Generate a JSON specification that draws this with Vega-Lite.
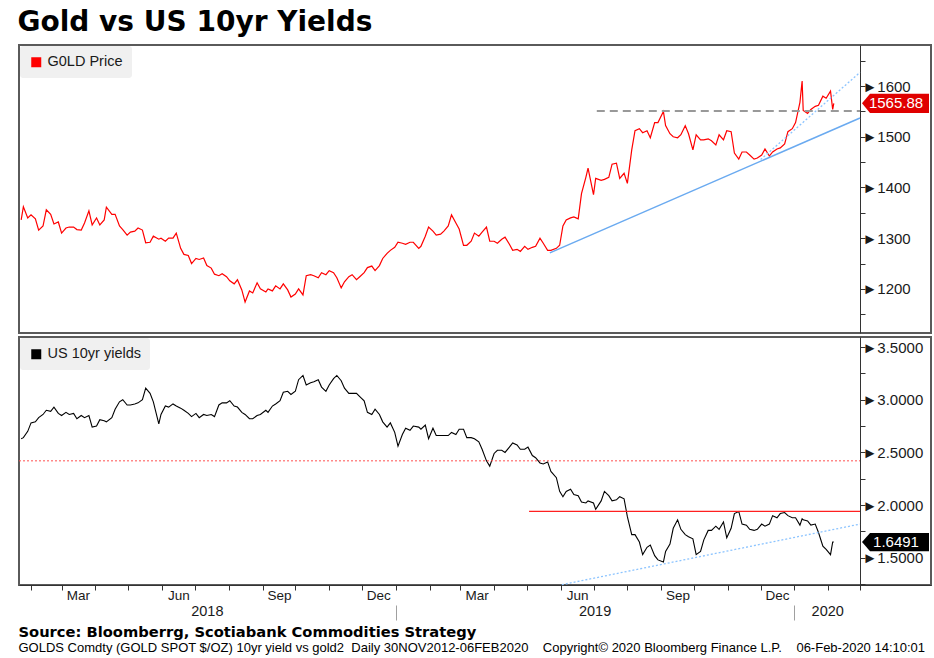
{
  "$schema": "https://vega.github.io/schema/vega-lite/v6.json",
  "background": "white",
  "padding": {"left": 17, "top": 9, "right": 5, "bottom": 0},
  "title": {"text": "Gold vs US 10yr Yields", "anchor": "start", "font": "DejaVu Sans", "fontSize": 28, "fontWeight": "bold", "color": "#000000", "offset": 7},
  "config": {
    "font": "Liberation Sans",
    "view": {"stroke": "#5a5a5a", "strokeWidth": 2},
    "axis": {"labelFont": "Liberation Sans", "labelColor": "#1a1a1a", "grid": false, "domainColor": "#333333", "tickColor": "#333333"},
    "legend": {"labelFont": "Liberation Sans", "labelColor": "#1a1a1a"}
  },
  "resolve": {"scale": {"color": "independent"}, "legend": {"color": "independent"}},
  "datasets": {
    "px": [
      {"d":"2018-01-23","g":1336,"y":2.63},{"d":"2018-01-25","g":1362,"y":2.64},{"d":"2018-01-29","g":1340,"y":2.70},{"d":"2018-02-01","g":1346,"y":2.78},
      {"d":"2018-02-05","g":1338,"y":2.79},{"d":"2018-02-08","g":1316,"y":2.83},{"d":"2018-02-12","g":1324,"y":2.86},{"d":"2018-02-15","g":1356,"y":2.90},
      {"d":"2018-02-19","g":1347,"y":2.89},{"d":"2018-02-22","g":1328,"y":2.93},{"d":"2018-02-26","g":1332,"y":2.87},{"d":"2018-03-01","g":1310,"y":2.85},
      {"d":"2018-03-05","g":1320,"y":2.88},{"d":"2018-03-08","g":1322,"y":2.86},{"d":"2018-03-12","g":1322,"y":2.87},{"d":"2018-03-15","g":1317,"y":2.82},
      {"d":"2018-03-19","g":1316,"y":2.85},{"d":"2018-03-22","g":1330,"y":2.83},{"d":"2018-03-26","g":1354,"y":2.85},{"d":"2018-03-29","g":1326,"y":2.74},
      {"d":"2018-04-02","g":1340,"y":2.75},{"d":"2018-04-05","g":1326,"y":2.81},{"d":"2018-04-09","g":1336,"y":2.80},{"d":"2018-04-11","g":1361,"y":2.79},
      {"d":"2018-04-16","g":1347,"y":2.83},{"d":"2018-04-19","g":1347,"y":2.91},{"d":"2018-04-23","g":1324,"y":2.98},{"d":"2018-04-26","g":1317,"y":3.00},
      {"d":"2018-04-30","g":1306,"y":2.95},{"d":"2018-05-03","g":1312,"y":2.95},{"d":"2018-05-07","g":1314,"y":2.96},{"d":"2018-05-10","g":1320,"y":2.97},
      {"d":"2018-05-14","g":1316,"y":3.00},{"d":"2018-05-17","g":1291,"y":3.11},{"d":"2018-05-21","g":1292,"y":3.06},{"d":"2018-05-24","g":1304,"y":2.98},
      {"d":"2018-05-29","g":1298,"y":2.77},{"d":"2018-05-31","g":1300,"y":2.86},{"d":"2018-06-04","g":1294,"y":2.94},{"d":"2018-06-07","g":1300,"y":2.93},
      {"d":"2018-06-11","g":1300,"y":2.96},{"d":"2018-06-14","g":1310,"y":2.94},{"d":"2018-06-18","g":1280,"y":2.92},{"d":"2018-06-21","g":1268,"y":2.90},
      {"d":"2018-06-25","g":1266,"y":2.87},{"d":"2018-06-28","g":1250,"y":2.84},{"d":"2018-07-02","g":1260,"y":2.87},{"d":"2018-07-05","g":1258,"y":2.83},
      {"d":"2018-07-09","g":1261,"y":2.86},{"d":"2018-07-12","g":1246,"y":2.85},{"d":"2018-07-16","g":1241,"y":2.86},{"d":"2018-07-19","g":1229,"y":2.84},
      {"d":"2018-07-23","g":1226,"y":2.95},{"d":"2018-07-26","g":1230,"y":2.97},{"d":"2018-07-30","g":1224,"y":2.97},{"d":"2018-08-02","g":1216,"y":2.99},
      {"d":"2018-08-06","g":1210,"y":2.94},{"d":"2018-08-09","g":1218,"y":2.93},{"d":"2018-08-13","g":1198,"y":2.88},{"d":"2018-08-16","g":1174,"y":2.86},
      {"d":"2018-08-20","g":1196,"y":2.82},{"d":"2018-08-23","g":1192,"y":2.82},{"d":"2018-08-27","g":1212,"y":2.85},{"d":"2018-08-30","g":1200,"y":2.86},
      {"d":"2018-09-04","g":1194,"y":2.90},{"d":"2018-09-06","g":1200,"y":2.88},{"d":"2018-09-10","g":1196,"y":2.94},{"d":"2018-09-13","g":1206,"y":2.96},
      {"d":"2018-09-17","g":1200,"y":2.99},{"d":"2018-09-20","g":1210,"y":3.07},{"d":"2018-09-24","g":1198,"y":3.08},{"d":"2018-09-27","g":1184,"y":3.05},
      {"d":"2018-10-01","g":1190,"y":3.08},{"d":"2018-10-04","g":1200,"y":3.19},{"d":"2018-10-08","g":1188,"y":3.23},{"d":"2018-10-11","g":1226,"y":3.14},
      {"d":"2018-10-15","g":1228,"y":3.16},{"d":"2018-10-18","g":1226,"y":3.17},{"d":"2018-10-22","g":1222,"y":3.19},{"d":"2018-10-25","g":1232,"y":3.12},
      {"d":"2018-10-29","g":1228,"y":3.08},{"d":"2018-11-01","g":1236,"y":3.14},{"d":"2018-11-05","g":1232,"y":3.20},{"d":"2018-11-08","g":1222,"y":3.23},
      {"d":"2018-11-12","g":1202,"y":3.18},{"d":"2018-11-15","g":1214,"y":3.11},{"d":"2018-11-19","g":1224,"y":3.06},{"d":"2018-11-22","g":1228,"y":3.06},
      {"d":"2018-11-26","g":1218,"y":3.06},{"d":"2018-11-29","g":1224,"y":3.03},{"d":"2018-12-03","g":1232,"y":2.99},{"d":"2018-12-06","g":1242,"y":2.88},
      {"d":"2018-12-10","g":1245,"y":2.86},{"d":"2018-12-13","g":1236,"y":2.91},{"d":"2018-12-17","g":1246,"y":2.86},{"d":"2018-12-20","g":1260,"y":2.79},
      {"d":"2018-12-24","g":1270,"y":2.74},{"d":"2018-12-27","g":1276,"y":2.78},{"d":"2018-12-31","g":1282,"y":2.69},{"d":"2019-01-03","g":1292,"y":2.56},
      {"d":"2019-01-07","g":1290,"y":2.67},{"d":"2019-01-10","g":1288,"y":2.73},{"d":"2019-01-14","g":1292,"y":2.71},{"d":"2019-01-17","g":1292,"y":2.75},
      {"d":"2019-01-22","g":1280,"y":2.74},{"d":"2019-01-24","g":1284,"y":2.72},{"d":"2019-01-28","g":1304,"y":2.76},{"d":"2019-01-31","g":1322,"y":2.63},
      {"d":"2019-02-04","g":1314,"y":2.73},{"d":"2019-02-07","g":1306,"y":2.66},{"d":"2019-02-11","g":1308,"y":2.66},{"d":"2019-02-14","g":1314,"y":2.66},
      {"d":"2019-02-18","g":1324,"y":2.66},{"d":"2019-02-21","g":1346,"y":2.69},{"d":"2019-02-25","g":1330,"y":2.67},{"d":"2019-02-28","g":1318,"y":2.72},
      {"d":"2019-03-04","g":1286,"y":2.72},{"d":"2019-03-07","g":1286,"y":2.64},{"d":"2019-03-11","g":1294,"y":2.64},{"d":"2019-03-14","g":1310,"y":2.63},
      {"d":"2019-03-18","g":1304,"y":2.60},{"d":"2019-03-21","g":1312,"y":2.53},{"d":"2019-03-25","g":1322,"y":2.42},{"d":"2019-03-28","g":1294,"y":2.37},
      {"d":"2019-04-01","g":1294,"y":2.49},{"d":"2019-04-04","g":1290,"y":2.52},{"d":"2019-04-08","g":1298,"y":2.52},{"d":"2019-04-11","g":1302,"y":2.50},
      {"d":"2019-04-15","g":1288,"y":2.55},{"d":"2019-04-18","g":1276,"y":2.59},{"d":"2019-04-22","g":1278,"y":2.57},{"d":"2019-04-25","g":1274,"y":2.53},
      {"d":"2019-04-29","g":1284,"y":2.53},{"d":"2019-05-02","g":1278,"y":2.55},{"d":"2019-05-06","g":1282,"y":2.47},{"d":"2019-05-09","g":1284,"y":2.45},
      {"d":"2019-05-13","g":1300,"y":2.40},{"d":"2019-05-16","g":1290,"y":2.39},{"d":"2019-05-20","g":1276,"y":2.41},{"d":"2019-05-23","g":1276,"y":2.32},
      {"d":"2019-05-28","g":1280,"y":2.26},{"d":"2019-05-31","g":1286,"y":2.13},{"d":"2019-06-03","g":1324,"y":2.08},{"d":"2019-06-06","g":1336,"y":2.13},
      {"d":"2019-06-10","g":1340,"y":2.15},{"d":"2019-06-13","g":1342,"y":2.10},{"d":"2019-06-17","g":1338,"y":2.09},{"d":"2019-06-20","g":1388,"y":2.03},
      {"d":"2019-06-24","g":1420,"y":2.02},{"d":"2019-06-26","g":1438,"y":2.04},{"d":"2019-07-01","g":1386,"y":2.02},{"d":"2019-07-03","g":1418,"y":1.96},
      {"d":"2019-07-08","g":1414,"y":2.04},{"d":"2019-07-11","g":1416,"y":2.13},{"d":"2019-07-15","g":1420,"y":2.09},{"d":"2019-07-18","g":1446,"y":2.04},
      {"d":"2019-07-22","g":1448,"y":2.05},{"d":"2019-07-25","g":1418,"y":2.08},{"d":"2019-07-29","g":1428,"y":2.06},{"d":"2019-08-01","g":1408,"y":1.89},
      {"d":"2019-08-05","g":1474,"y":1.72},{"d":"2019-08-08","g":1512,"y":1.72},{"d":"2019-08-12","g":1516,"y":1.65},{"d":"2019-08-15","g":1508,"y":1.53},
      {"d":"2019-08-19","g":1512,"y":1.60},{"d":"2019-08-22","g":1498,"y":1.62},{"d":"2019-08-26","g":1528,"y":1.52},{"d":"2019-08-29","g":1528,"y":1.48},
      {"d":"2019-09-03","g":1550,"y":1.46},{"d":"2019-09-05","g":1522,"y":1.56},{"d":"2019-09-09","g":1506,"y":1.63},{"d":"2019-09-12","g":1500,"y":1.78},
      {"d":"2019-09-16","g":1498,"y":1.86},{"d":"2019-09-19","g":1504,"y":1.77},{"d":"2019-09-23","g":1522,"y":1.72},{"d":"2019-09-26","g":1506,"y":1.70},
      {"d":"2019-09-30","g":1474,"y":1.68},{"d":"2019-10-03","g":1504,"y":1.53},{"d":"2019-10-07","g":1494,"y":1.56},{"d":"2019-10-10","g":1494,"y":1.67},
      {"d":"2019-10-14","g":1496,"y":1.76},{"d":"2019-10-17","g":1492,"y":1.76},{"d":"2019-10-21","g":1484,"y":1.80},{"d":"2019-10-24","g":1504,"y":1.77},
      {"d":"2019-10-28","g":1494,"y":1.84},{"d":"2019-10-31","g":1512,"y":1.69},{"d":"2019-11-04","g":1510,"y":1.78},{"d":"2019-11-07","g":1468,"y":1.92},
      {"d":"2019-11-11","g":1456,"y":1.94},{"d":"2019-11-14","g":1470,"y":1.82},{"d":"2019-11-18","g":1470,"y":1.81},{"d":"2019-11-21","g":1464,"y":1.77},
      {"d":"2019-11-25","g":1456,"y":1.76},{"d":"2019-11-28","g":1458,"y":1.77},{"d":"2019-12-02","g":1464,"y":1.82},{"d":"2019-12-05","g":1476,"y":1.80},
      {"d":"2019-12-09","g":1462,"y":1.82},{"d":"2019-12-12","g":1470,"y":1.90},{"d":"2019-12-16","g":1476,"y":1.88},{"d":"2019-12-19","g":1478,"y":1.92},
      {"d":"2019-12-23","g":1486,"y":1.93},{"d":"2019-12-26","g":1510,"y":1.90},{"d":"2019-12-30","g":1516,"y":1.88},{"d":"2020-01-02","g":1528,"y":1.88},
      {"d":"2020-01-06","g":1568,"y":1.81},{"d":"2020-01-08","g":1610,"y":1.87},{"d":"2020-01-09","g":1552,"y":1.86},{"d":"2020-01-13","g":1546,"y":1.85},
      {"d":"2020-01-16","g":1554,"y":1.81},{"d":"2020-01-20","g":1560,"y":1.82},{"d":"2020-01-23","g":1562,"y":1.74},{"d":"2020-01-27","g":1580,"y":1.61},
      {"d":"2020-01-30","g":1576,"y":1.58},{"d":"2020-02-03","g":1590,"y":1.53},{"d":"2020-02-05","g":1554,"y":1.65},{"d":"2020-02-06","g":1566,"y":1.65}
    ]
  },
  "spacing": 2,
  "vconcat": [
    {
      "width": 912,
      "height": 288,
      "resolve": {"axis": {"y": "independent"}},
      "layer": [
        {
          "data": {"name": "px"},
          "mark": {"type": "line", "strokeWidth": 1.2},
          "encoding": {
            "x": {"field": "d", "type": "temporal", "axis": null,
                  "scale": {"domain": [{"year": 2018, "month": 1, "date": 21, "utc": true}, {"year": 2020, "month": 5, "date": 5, "utc": true}]}},
            "y": {"field": "g", "type": "quantitative",
                  "scale": {"domain": [1113, 1681], "zero": false, "nice": false},
                  "axis": {"orient": "right", "offset": -71, "title": null,
                           "values": [1150, 1200, 1250, 1300, 1350, 1400, 1450, 1500, 1550, 1600, 1650],
                           "labelExpr": "datum.value % 100 === 0 ? '►' + datum.value : ''",
                           "tickSize": 5, "labelPadding": -3, "labelFontSize": 15, "domainWidth": 1}},
            "color": {"datum": "G0LD Price", "type": "nominal",
                      "scale": {"domain": ["G0LD Price"], "range": ["#ff0000"]},
                      "legend": {"orient": "top-left", "title": null, "offset": 1, "padding": 9, "fillColor": "#f0f0f0",
                                 "cornerRadius": 3, "symbolType": "square", "symbolSize": 100,
                                 "symbolFillColor": "#ff0000", "symbolStrokeColor": "#ff0000", "symbolStrokeWidth": 0,
                                 "labelFontSize": 14.5, "labelOffset": 4}}
          }
        },
        {
          "data": {"values": [{"d1": "2019-07-04", "d2": "2020-03-01", "v1": 1551, "v2": 1551}]},
          "mark": {"type": "rule", "color": "#999999", "strokeWidth": 2, "strokeDash": [8, 5]},
          "encoding": {
            "x": {"field": "d1", "type": "temporal", "axis": null},
            "x2": {"field": "d2"},
            "y": {"field": "v1", "type": "quantitative", "axis": null},
            "y2": {"field": "v2"}
          }
        },
        {
          "data": {"values": [{"d1": "2019-05-22", "d2": "2020-03-01", "v1": 1271, "v2": 1537}]},
          "mark": {"type": "rule", "color": "#6aaaf0", "strokeWidth": 1.5},
          "encoding": {
            "x": {"field": "d1", "type": "temporal", "axis": null},
            "x2": {"field": "d2"},
            "y": {"field": "v1", "type": "quantitative", "axis": null},
            "y2": {"field": "v2"}
          }
        },
        {
          "data": {"values": [{"d1": "2019-12-01", "d2": "2020-03-01", "v1": 1455, "v2": 1627}]},
          "mark": {"type": "rule", "color": "#8cc4ff", "strokeWidth": 1.3, "strokeDash": [2, 2]},
          "encoding": {
            "x": {"field": "d1", "type": "temporal", "axis": null},
            "x2": {"field": "d2"},
            "y": {"field": "v1", "type": "quantitative", "axis": null},
            "y2": {"field": "v2"}
          }
        },
        {
          "data": {"values": [{"d": "2020-03-01", "v": 1565.88, "t": "1565.88"}]},
          "mark": {"type": "point", "filled": true, "opacity": 1, "color": "#e00000", "size": 4489, "xOffset": 35.5,
                   "shape": "M-1,0L-0.76,-0.284L1,-0.284L1,0.284L-0.76,0.284Z"},
          "encoding": {
            "x": {"field": "d", "type": "temporal", "axis": null},
            "y": {"field": "v", "type": "quantitative", "axis": null}
          }
        },
        {
          "data": {"values": [{"d": "2020-03-01", "v": 1565.88, "t": "1565.88"}]},
          "mark": {"type": "text", "color": "white", "fontSize": 15, "dx": 36, "align": "center", "baseline": "middle"},
          "encoding": {
            "x": {"field": "d", "type": "temporal", "axis": null},
            "y": {"field": "v", "type": "quantitative", "axis": null},
            "text": {"field": "t"}
          }
        }
      ]
    },
    {
      "width": 912,
      "height": 248,
      "title": {"text": "Source: Bloomberrg, Scotiabank Commodities Strategy",
                "subtitle": "GOLDS Comdty (GOLD SPOT $/OZ) 10yr yield vs gold2\u00a0\u00a0Daily 30NOV2012-06FEB2020\u00a0\u00a0\u00a0\u00a0Copyright© 2020 Bloomberg Finance L.P.\u00a0\u00a0\u00a0\u00a006-Feb-2020 14:10:01",
                "orient": "bottom", "anchor": "start", "font": "DejaVu Sans", "fontSize": 14.7, "fontWeight": "bold", "color": "#000000",
                "subtitleFont": "Liberation Sans", "subtitleFontSize": 13, "subtitleColor": "#000000", "subtitlePadding": 3, "offset": 4},
      "resolve": {"axis": {"x": "independent", "y": "independent"}},
      "layer": [
        {
          "data": {"name": "px"},
          "mark": {"type": "line", "strokeWidth": 1.1},
          "encoding": {
            "x": {"field": "d", "type": "temporal",
                  "scale": {"domain": [{"year": 2018, "month": 1, "date": 21, "utc": true}, {"year": 2020, "month": 5, "date": 5, "utc": true}]},
                  "axis": {"orient": "bottom", "title": null, "labels": false, "tickSize": 5, "domain": true,
                           "values": [
                             {"year": 2018, "month": 2, "date": 1, "utc": true}, {"year": 2018, "month": 3, "date": 1, "utc": true},
                             {"year": 2018, "month": 4, "date": 1, "utc": true}, {"year": 2018, "month": 5, "date": 1, "utc": true},
                             {"year": 2018, "month": 6, "date": 1, "utc": true}, {"year": 2018, "month": 7, "date": 1, "utc": true},
                             {"year": 2018, "month": 8, "date": 1, "utc": true}, {"year": 2018, "month": 9, "date": 1, "utc": true},
                             {"year": 2018, "month": 10, "date": 1, "utc": true}, {"year": 2018, "month": 11, "date": 1, "utc": true},
                             {"year": 2018, "month": 12, "date": 1, "utc": true}, {"year": 2019, "month": 1, "date": 1, "utc": true},
                             {"year": 2019, "month": 2, "date": 1, "utc": true}, {"year": 2019, "month": 3, "date": 1, "utc": true},
                             {"year": 2019, "month": 4, "date": 1, "utc": true}, {"year": 2019, "month": 5, "date": 1, "utc": true},
                             {"year": 2019, "month": 6, "date": 1, "utc": true}, {"year": 2019, "month": 7, "date": 1, "utc": true},
                             {"year": 2019, "month": 8, "date": 1, "utc": true}, {"year": 2019, "month": 9, "date": 1, "utc": true},
                             {"year": 2019, "month": 10, "date": 1, "utc": true}, {"year": 2019, "month": 11, "date": 1, "utc": true},
                             {"year": 2019, "month": 12, "date": 1, "utc": true}, {"year": 2020, "month": 1, "date": 1, "utc": true},
                             {"year": 2020, "month": 2, "date": 1, "utc": true}, {"year": 2020, "month": 3, "date": 1, "utc": true}
                           ]}},
            "y": {"field": "y", "type": "quantitative",
                  "scale": {"domain": [1.242, 3.595], "zero": false, "nice": false},
                  "axis": {"orient": "right", "offset": -71, "title": null,
                           "values": [1.25, 1.5, 1.75, 2, 2.25, 2.5, 2.75, 3, 3.25, 3.5],
                           "labelExpr": "(datum.value * 2) % 1 === 0 ? '►' + format(datum.value, '.4f') : ''",
                           "tickSize": 5, "labelPadding": -3, "labelFontSize": 15}},
            "color": {"datum": "US 10yr yields", "type": "nominal",
                      "scale": {"domain": ["US 10yr yields"], "range": ["#000000"]},
                      "legend": {"orient": "top-left", "title": null, "offset": 1, "padding": 9, "fillColor": "#f0f0f0",
                                 "cornerRadius": 3, "symbolType": "square", "symbolSize": 100,
                                 "symbolFillColor": "#000000", "symbolStrokeColor": "#000000", "symbolStrokeWidth": 0,
                                 "labelFontSize": 14.5, "labelOffset": 4}}
          }
        },
        {
          "data": {"values": [{"d1": "2019-05-03", "d2": "2020-03-01", "v1": 1.94, "v2": 1.94}]},
          "mark": {"type": "rule", "color": "#ff2020", "strokeWidth": 1.3},
          "encoding": {
            "x": {"field": "d1", "type": "temporal",
                  "scale": {"domain": [{"year": 2018, "month": 1, "date": 21, "utc": true}, {"year": 2020, "month": 5, "date": 5, "utc": true}]},
                  "axis": {"orient": "bottom", "title": null, "ticks": false, "domain": false, "format": "%b",
                           "labelPadding": 3, "labelFontSize": 13.5,
                           "values": [
                             {"year": 2018, "month": 3, "date": 16, "utc": true}, {"year": 2018, "month": 6, "date": 16, "utc": true},
                             {"year": 2018, "month": 9, "date": 16, "utc": true}, {"year": 2018, "month": 12, "date": 16, "utc": true},
                             {"year": 2019, "month": 3, "date": 16, "utc": true}, {"year": 2019, "month": 6, "date": 16, "utc": true},
                             {"year": 2019, "month": 9, "date": 16, "utc": true}, {"year": 2019, "month": 12, "date": 16, "utc": true}
                           ]}},
            "x2": {"field": "d2"},
            "y": {"field": "v1", "type": "quantitative", "axis": null},
            "y2": {"field": "v2"}
          }
        },
        {
          "data": {"values": [{"d1": "2018-01-21", "d2": "2020-03-01", "v1": 2.42, "v2": 2.42}]},
          "mark": {"type": "rule", "color": "#ff5050", "strokeWidth": 1, "strokeDash": [2, 2]},
          "encoding": {
            "x": {"field": "d1", "type": "temporal",
                  "scale": {"domain": [{"year": 2018, "month": 1, "date": 21, "utc": true}, {"year": 2020, "month": 5, "date": 5, "utc": true}]},
                  "axis": {"orient": "bottom", "title": null, "ticks": false, "domain": false, "format": "%Y",
                           "labelPadding": 19, "labelFontSize": 14.5,
                           "values": [
                             {"year": 2018, "month": 7, "date": 12, "utc": true},
                             {"year": 2019, "month": 7, "date": 2, "utc": true},
                             {"year": 2020, "month": 1, "date": 31, "utc": true}
                           ]}},
            "x2": {"field": "d2"},
            "y": {"field": "v1", "type": "quantitative", "axis": null},
            "y2": {"field": "v2"}
          }
        },
        {
          "data": {"values": [{"d1": "2019-06-02", "d2": "2020-03-01", "v1": 1.245, "v2": 1.82}]},
          "mark": {"type": "rule", "color": "#8cc4ff", "strokeWidth": 1.3, "strokeDash": [2, 2]},
          "encoding": {
            "x": {"field": "d1", "type": "temporal",
                  "scale": {"domain": [{"year": 2018, "month": 1, "date": 21, "utc": true}, {"year": 2020, "month": 5, "date": 5, "utc": true}]},
                  "axis": {"orient": "bottom", "title": null, "labels": false, "domain": false, "offset": 20,
                           "tickSize": 15, "tickColor": "#a0a0a0",
                           "values": [
                             {"year": 2019, "month": 1, "date": 1, "utc": true},
                             {"year": 2020, "month": 1, "date": 1, "utc": true}
                           ]}},
            "x2": {"field": "d2"},
            "y": {"field": "v1", "type": "quantitative", "axis": null},
            "y2": {"field": "v2"}
          }
        },
        {
          "data": {"values": [{"d": "2020-03-01", "v": 1.6491, "t": "1.6491"}]},
          "mark": {"type": "point", "filled": true, "opacity": 1, "color": "#000000", "size": 4489, "xOffset": 35.5,
                   "shape": "M-1,0L-0.76,-0.27L1,-0.27L1,0.27L-0.76,0.27Z"},
          "encoding": {
            "x": {"field": "d", "type": "temporal", "axis": null},
            "y": {"field": "v", "type": "quantitative", "axis": null}
          }
        },
        {
          "data": {"values": [{"d": "2020-03-01", "v": 1.6491, "t": "1.6491"}]},
          "mark": {"type": "text", "color": "white", "fontSize": 15, "dx": 36, "align": "center", "baseline": "middle"},
          "encoding": {
            "x": {"field": "d", "type": "temporal", "axis": null},
            "y": {"field": "v", "type": "quantitative", "axis": null},
            "text": {"field": "t"}
          }
        }
      ]
    }
  ]
}
